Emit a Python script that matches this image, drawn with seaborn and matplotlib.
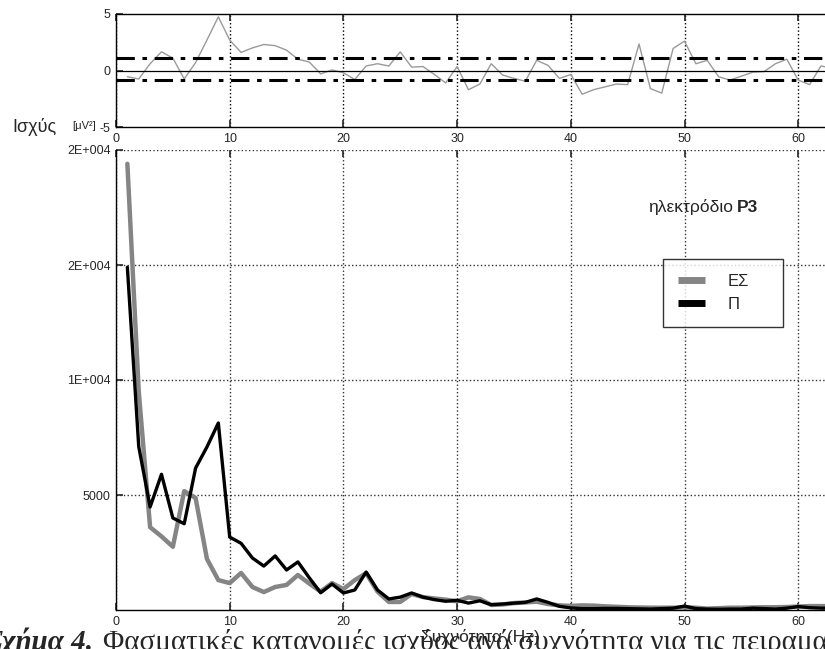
import numpy as np
import pandas as pd
import matplotlib
matplotlib.use("Agg")
import matplotlib.pyplot as plt
import seaborn as sns
from matplotlib.lines import Line2D

# frequency bins (Hz)
freq = list(range(1, 64))

# difference curve shown in the small top panel
diff = [-0.55, -0.75, 0.6, 1.65, 1.1, -0.75, 0.7, 2.7, 4.75, 2.7,
        1.6, 2.0, 2.3, 2.2, 1.8, 1.0, 0.75, -0.3, 0.05, -0.2,
        -0.8, 0.4, 0.6, 0.4, 1.65, 0.3, 0.35, -0.35, -1.1, 0.35,
        -1.7, -1.2, 0.6, -0.4, -0.7, -0.95, 0.9, 0.45, -0.7, -0.35,
        -2.1, -1.7, -1.45, -1.2, -1.25, 2.35, -1.6, -2.0, 1.95, 2.6,
        0.6, 0.9, -0.55, -0.85, -0.5, -0.15, -0.1, 0.6, 1.0, -0.85,
        -1.25, 0.4, 0.2]
upper_lim = 1.15
lower_lim = -0.88

# power spectra
power_es = [19400, 9500, 3600, 3200, 2750, 5170, 4870, 2220, 1300, 1170,
            1610, 1000, 780, 1000, 1090, 1520, 1150, 800, 1170, 910,
            1300, 1600, 800, 350, 350, 700, 560, 500, 450, 380,
            550, 480, 220, 240, 300, 330, 360, 260, 200, 180,
            200, 190, 160, 140, 120, 110, 100, 100, 100, 110,
            100, 60, 80, 100, 100, 110, 120, 120, 130, 150,
            170, 170, 170]
power_p = [14900, 7100, 4480, 5900, 4000, 3750, 6170, 7090, 8130, 3170,
           2900, 2260, 1910, 2350, 1740, 2090, 1400, 750, 1130, 740,
           870, 1650, 870, 480, 560, 740, 560, 450, 380, 420,
           300, 400, 230, 260, 300, 330, 480, 330, 160, 90,
           60, 60, 70, 70, 60, 50, 40, 60, 80, 170,
           60, 40, 30, 40, 40, 80, 60, 40, 80, 150,
           100, 80, 80]

x_ticks = [0, 10, 20, 30, 40, 50, 60]
top_yticks = [-5, 0, 5]
top_ylabels = ["-5", "0", "5"]
bot_yticks = [5000, 10000, 15000, 20000]
bot_ylabels = ["5000", "1E+004", "2E+004", "2E+004"]

sns.set_style("white")
plt.rcParams["font.family"] = ["Liberation Sans", "DejaVu Sans"]

W, H = 825, 649
fig = plt.figure(figsize=(W / 100, H / 100), dpi=100)

def box(x0, y0, x1, y1):
    return [x0 / W, 1 - y1 / H, (x1 - x0) / W, (y1 - y0) / H]

xmax = (825 - 116) / 11.37

# ---- top panel ----
ax1 = fig.add_axes(box(116, 14, 825, 127))
df_diff = pd.DataFrame({"f": freq, "d": diff})
sns.lineplot(data=df_diff, x="f", y="d", ax=ax1, color="#9a9a9a", lw=1.0)
ax1.axhline(0, color="black", lw=0.9)
ax1.axhline(upper_lim, color="black", lw=2.2, ls=(0, (6, 2.5, 1.5, 2.5)))
ax1.axhline(lower_lim, color="black", lw=2.2, ls=(0, (6, 2.5, 1.5, 2.5)))
ax1.set_xlim(0, xmax)
ax1.set_ylim(-5, 5)
ax1.set_xticks(x_ticks)
ax1.set_yticks(top_yticks)
ax1.set_yticklabels(top_ylabels)
ax1.xaxis.grid(True, color="black", ls=":", lw=1.0)
ax1.yaxis.grid(False)
ax1.tick_params(direction="in", length=5, width=1.2, top=True, left=True,
                bottom=True, labelsize=9, pad=4)
ax1.set_xlabel("")
ax1.set_ylabel("")
for s in ["left", "top", "bottom"]:
    ax1.spines[s].set_color("black")
    ax1.spines[s].set_linewidth(1.0)
ax1.spines["right"].set_visible(False)

# ---- bottom panel ----
ax2 = fig.add_axes(box(116, 150, 825, 610))
df_pow = pd.DataFrame({
    "f": freq * 2,
    "power": power_es + power_p,
    "group": ["ΕΣ"] * len(freq) + ["Π"] * len(freq),
})
sns.lineplot(data=df_pow, x="f", y="power", hue="group", ax=ax2,
             palette={"ΕΣ": "#858585", "Π": "black"}, legend=False)
ax2.lines[0].set_linewidth(3.2)
ax2.lines[1].set_linewidth(2.4)
ax2.set_xlim(0, xmax)
ax2.set_ylim(0, 20000)
ax2.set_xticks(x_ticks)
ax2.set_yticks(bot_yticks)
ax2.set_yticklabels(bot_ylabels)
ax2.grid(True, color="#333333", ls=":", lw=1.0)
ax2.tick_params(direction="in", length=5, width=1.2, top=True, left=True,
                bottom=True, labeltop=False, labelsize=9, pad=4)
ax2.set_xlabel("")
ax2.set_ylabel("")
for s in ["left", "bottom"]:
    ax2.spines[s].set_color("black")
    ax2.spines[s].set_linewidth(1.0)
ax2.spines["top"].set_visible(False)
ax2.spines["right"].set_visible(False)

# legend box
handles = [Line2D([], [], color="#858585", lw=5, solid_capstyle="butt"),
           Line2D([], [], color="black", lw=5, solid_capstyle="butt")]
leg = fig.legend(handles, ["ΕΣ", "Π"], loc="upper left",
                 bbox_to_anchor=(663 / W, 1 - 331 / H, 120 / W, 72 / H),
                 mode="expand", fontsize=12, frameon=True, fancybox=False,
                 handlelength=1.6, handletextpad=1.4, borderpad=0.9,
                 labelspacing=0.45, borderaxespad=0)
leg.get_frame().set_edgecolor("black")
leg.get_frame().set_linewidth(1.0)

# annotation texts
t1 = fig.text(648 / W, 1 - 207 / H, "ηλεκτρόδιο", fontsize=12.5, va="center")
ax2.annotate("P3", xy=(1, 0), xycoords=t1, xytext=(3, 0),
             textcoords="offset points", fontsize=12.5, fontweight="bold",
             va="bottom")
fig.text(12 / W, 1 - 127 / H, "Ισχύς", fontsize=13, va="center")
fig.text(72 / W, 1 - 126 / H, "[μV²]", fontsize=8, va="center")
fig.text(480 / W, 1 - 637 / H, "Συχνότητα (Hz)", fontsize=12.5,
         ha="center", va="center")

# caption of the source page, cut off at the image edges
fig.text(93 / W, 1 - 650 / H, "Σχήμα 4.", fontsize=21,
         family="Liberation Serif", fontweight="bold", style="italic",
         ha="right", va="baseline")
fig.text(103 / W, 1 - 650 / H,
         "Φασματικές κατανομές ισχύος ανά συχνότητα για τις πειραματικές ομάδες",
         fontsize=21, family="Liberation Serif", ha="left", va="baseline")

fig.savefig("out.png", dpi=100)
